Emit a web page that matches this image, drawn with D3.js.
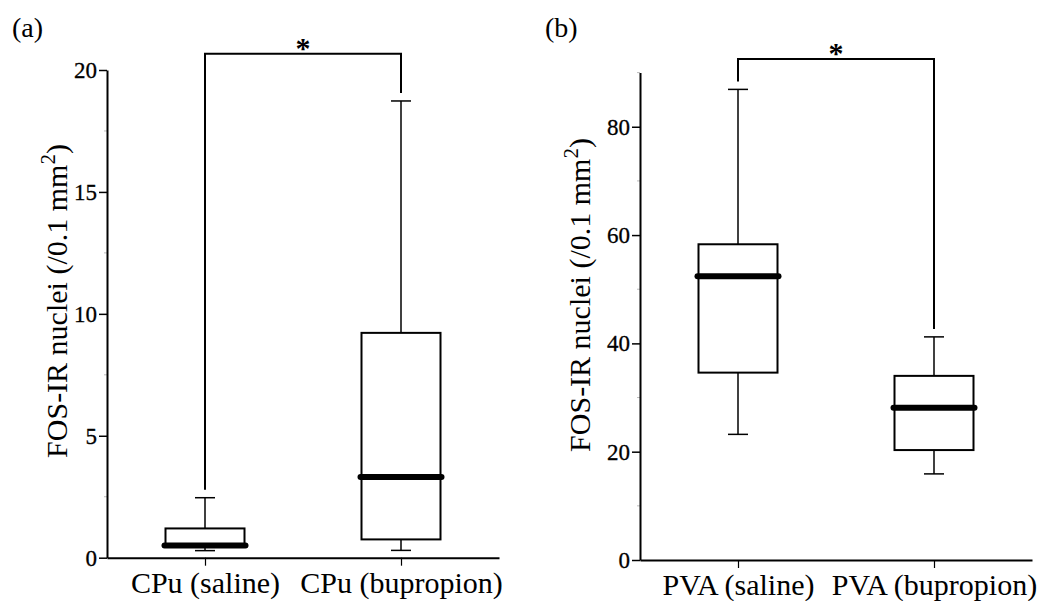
<!DOCTYPE html>
<html>
<head>
<meta charset="utf-8">
<script src="https://cdn.jsdelivr.net/npm/d3@7"></script>
<style>
  html, body { margin: 0; padding: 0; background: #fff; }
  svg, svg text { font-family: 'Liberation Serif', 'Times New Roman', serif; }
</style>
</head>
<body>
<div id="chart"></div>
<script>
// panel (a): CPu
const cpuGroups = ['CPu (saline)', 'CPu (bupropion)'];
const cpuMin = [0.29, 0.30];
const cpuQ1 = [0.45, 0.75];
const cpuMedian = [0.50, 3.31];
const cpuQ3 = [1.20, 9.22];
const cpuMax = [2.46, 18.73];
const cpuTicks = [0, 5, 10, 15, 20];
const cpuMinorTicks = [2.5, 7.5, 12.5, 17.5];

// panel (b): PVA
const pvaGroups = ['PVA (saline)', 'PVA (bupropion)'];
const pvaMin = [23.2, 15.9];
const pvaQ1 = [34.6, 20.3];
const pvaMedian = [52.4, 28.1];
const pvaQ3 = [58.3, 34.0];
const pvaMax = [86.9, 41.2];
const pvaTicks = [0, 20, 40, 60, 80];
const pvaMinorTicks = [10, 30, 50, 70, 90];

const panelLabels = ['(a)', '(b)'];
const yTitle = 'FOS-IR nuclei (/0.1 mm';
const sigMark = '*';

const serif = "'Liberation Serif', 'Times New Roman', serif";
const width = 1040, height = 601;
const svg = d3.select('#chart').append('svg')
  .attr('width', width)
  .attr('height', height)
  .attr('font-family', serif);

function zip(groups, mins, q1s, meds, q3s, maxs) {
  return groups.map((g, i) => ({
    group: g, min: mins[i], q1: q1s[i], median: meds[i], q3: q3s[i], max: maxs[i]
  }));
}

function drawPanel(cfg) {
  const { x0, yBottom, yTop, yMax, data, ticks, minor, label, titleX, titleY, bracketY } = cfg;
  const g = svg.append('g');

  const x = d3.scalePoint()
    .domain(data.map(d => d.group))
    .range([x0, x0 + 392])
    .padding(0.5);

  const y = d3.scaleLinear()
    .domain([0, yMax])
    .range([yBottom, yTop]);

  // minor ticks (faint)
  g.append('g')
    .selectAll('line')
    .data(minor)
    .join('line')
      .attr('x1', x0 - 3)
      .attr('x2', x0)
      .attr('y1', d => y(d))
      .attr('y2', d => y(d))
      .attr('stroke', '#bbb')
      .attr('stroke-width', 1);

  // axes
  const yAxis = g.append('g')
    .attr('transform', `translate(${x0},0)`)
    .call(d3.axisLeft(y).tickValues(ticks).tickSize(8).tickSizeOuter(0).tickPadding(2));

  const xAxis = g.append('g')
    .attr('transform', `translate(0,${yBottom})`)
    .call(d3.axisBottom(x).tickSize(8).tickSizeOuter(0).tickPadding(6));

  yAxis.attr('font-family', serif).attr('font-size', 23);
  xAxis.attr('font-family', serif).attr('font-size', 30);
  g.selectAll('.tick text').attr('fill', '#000').style('font-family', serif);
  yAxis.selectAll('.tick text').attr('stroke', '#000').attr('stroke-width', 0.3);
  g.selectAll('.domain').attr('stroke', '#000').attr('stroke-width', 2);
  yAxis.selectAll('.tick line').attr('stroke-width', 1.5);
  xAxis.selectAll('.tick line').attr('stroke-width', 1.2);

  // boxes
  const bw = 79, cap = 20;
  const boxes = g.append('g')
    .selectAll('g')
    .data(data)
    .join('g');

  boxes.append('line')
    .attr('x1', d => x(d.group)).attr('x2', d => x(d.group))
    .attr('y1', d => y(d.max)).attr('y2', d => y(d.q3))
    .attr('stroke', '#000').attr('stroke-width', 1.5);
  boxes.append('line')
    .attr('x1', d => x(d.group)).attr('x2', d => x(d.group))
    .attr('y1', d => y(d.q1)).attr('y2', d => y(d.min))
    .attr('stroke', '#000').attr('stroke-width', 1.5);
  boxes.append('line')
    .attr('x1', d => x(d.group) - cap / 2).attr('x2', d => x(d.group) + cap / 2)
    .attr('y1', d => y(d.max)).attr('y2', d => y(d.max))
    .attr('stroke', '#000').attr('stroke-width', 1.5);
  boxes.append('line')
    .attr('x1', d => x(d.group) - cap / 2).attr('x2', d => x(d.group) + cap / 2)
    .attr('y1', d => y(d.min)).attr('y2', d => y(d.min))
    .attr('stroke', '#000').attr('stroke-width', 1.5);
  boxes.append('rect')
    .attr('x', d => x(d.group) - bw / 2)
    .attr('width', bw)
    .attr('y', d => y(d.q3))
    .attr('height', d => y(d.q1) - y(d.q3))
    .attr('fill', '#fff')
    .attr('stroke', '#000')
    .attr('stroke-width', 2);
  boxes.append('line')
    .attr('x1', d => x(d.group) - bw / 2 - 1).attr('x2', d => x(d.group) + bw / 2 + 1)
    .attr('y1', d => y(d.median)).attr('y2', d => y(d.median))
    .attr('stroke', '#000').attr('stroke-width', 6).attr('stroke-linecap', 'round');

  // significance bracket
  const [a, b] = data;
  const by = y(bracketY);
  g.append('path')
    .attr('d', `M${x(a.group)},${y(a.max) - 8}V${by}H${x(b.group)}V${y(b.max) - 8}`)
    .attr('fill', 'none')
    .attr('stroke', '#000')
    .attr('stroke-width', 2);
  g.append('text')
    .attr('x', (x(a.group) + x(b.group)) / 2)
    .attr('y', by + 4)
    .attr('text-anchor', 'middle')
    .attr('font-size', 30)
    .attr('font-weight', 'bold')
    .text(sigMark);

  // y title
  const t = g.append('text')
    .attr('transform', `translate(${titleX},${titleY}) rotate(-90)`)
    .attr('text-anchor', 'middle')
    .attr('font-size', 30);
  t.append('tspan').text(yTitle);
  t.append('tspan').attr('dy', -12).attr('font-size', 21).text('2');
  t.append('tspan').attr('dy', 12).text(')');

  // panel label
  g.append('text')
    .attr('x', x0 - 95)
    .attr('y', 37)
    .attr('font-size', 28)
    .text(label);
}

drawPanel({
  x0: 107, yBottom: 557.7, yTop: 70, yMax: 20,
  data: zip(cpuGroups, cpuMin, cpuQ1, cpuMedian, cpuQ3, cpuMax),
  ticks: cpuTicks, minor: cpuMinorTicks, label: panelLabels[0],
  titleX: 66.5, titleY: 301, bracketY: 20.67
});

drawPanel({
  x0: 640, yBottom: 560, yTop: 72.6, yMax: 90,
  data: zip(pvaGroups, pvaMin, pvaQ1, pvaMedian, pvaQ3, pvaMax),
  ticks: pvaTicks, minor: pvaMinorTicks, label: panelLabels[1],
  titleX: 589.5, titleY: 295, bracketY: 92.5
});
</script>
</body>
</html>
